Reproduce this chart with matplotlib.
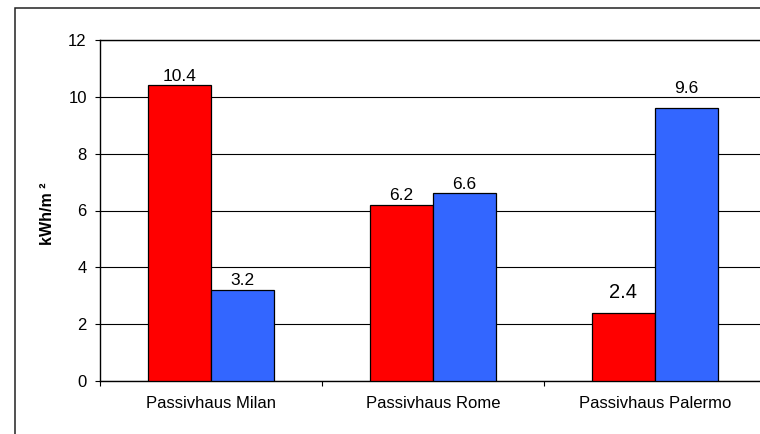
import matplotlib.pyplot as plt
from matplotlib.patches import Rectangle
from matplotlib.ticker import FixedLocator, NullFormatter
import numpy as np

plt.rcParams['font.family'] = ['Liberation Sans', 'DejaVu Sans']

sites = ["Passivhaus Milan", "Passivhaus Rome", "Passivhaus Palermo"]
red_vals = [10.4, 6.2, 2.4]
blue_vals = [3.2, 6.6, 9.6]

RED = "#FF0000"
BLUE = "#3366FF"


def make_plot():
    fig = plt.figure(figsize=(7.6, 4.34), dpi=100)
    # chart area frame (runs off the right/bottom edges)
    fig.patches.append(Rectangle((15 / 760, -0.2), 2.0, (434 - 8) / 434 + 0.2,
                                 transform=fig.transFigure, fill=False,
                                 edgecolor="#222222", linewidth=1.1))

    ax = fig.add_axes([100 / 760, 1 - 381 / 434, 666 / 760, 341 / 434])
    x = np.arange(len(sites))
    w = 0.285
    rb = ax.bar(x - w / 2, red_vals, w, color=RED, edgecolor="black", linewidth=0.9, zorder=3)
    bb = ax.bar(x + w / 2, blue_vals, w, color=BLUE, edgecolor="black", linewidth=0.9, zorder=3)

    ax.set_xlim(-0.5, len(sites) - 0.5)
    ax.set_ylim(0, 12)
    ax.set_yticks(range(0, 13, 2))
    ax.yaxis.grid(True, color="black", linewidth=0.8, zorder=0)
    ax.set_axisbelow(True)

    ax.set_xticks(x)
    ax.set_xticklabels(sites, fontsize=12)
    ax.tick_params(axis="x", which="major", length=0, pad=11)
    ax.xaxis.set_minor_locator(FixedLocator([-0.5, 0.5, 1.5, 2.5]))
    ax.xaxis.set_minor_formatter(NullFormatter())
    ax.tick_params(axis="x", which="minor", length=3.5, width=0.8, direction="out")
    ax.tick_params(axis="y", length=3.5, width=0.8, pad=6, labelsize=12)

    for side in ("left", "bottom", "top"):
        ax.spines[side].set_color("black")
        ax.spines[side].set_linewidth(1.0)
    ax.spines["right"].set_visible(False)

    # value labels; the Palermo pair sits a bit higher, 2.4 is set larger
    for bars, vals in ((rb, red_vals), (bb, blue_vals)):
        for b, v in zip(bars, vals):
            lift, size = 3.5, 12.5
            if b is rb[2]:
                lift, size = 11, 14.5
            elif b is bb[2]:
                lift = 11
            ax.annotate(f"{v:.1f}", (b.get_x() + b.get_width() / 2, v),
                        xytext=(0, lift), textcoords="offset points",
                        ha="center", va="baseline", fontsize=size)

    fig.text(47 / 760, 1 - 214 / 434, "kWh/m \u00b2", rotation=90,
             ha="center", va="center", fontsize=11.5, fontweight="bold")
    return fig


def main():
    fig = make_plot()
    fig.savefig("out.png", dpi=100)


if __name__ == "__main__":
    main()
